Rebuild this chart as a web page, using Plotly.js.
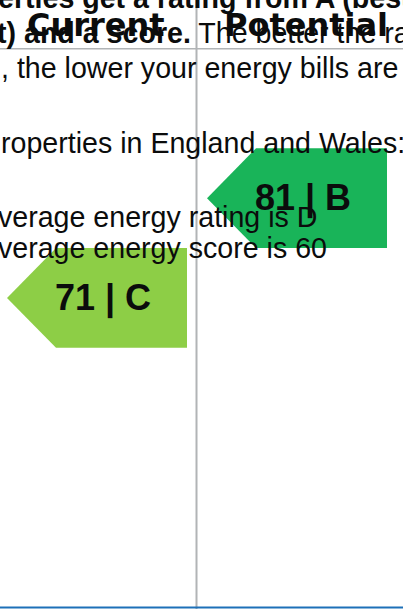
<!DOCTYPE html>
<html>
<head>
<meta charset="utf-8">
<script src="https://cdn.plot.ly/plotly-3.0.1.min.js"></script>
<style>
  html, body { margin: 0; padding: 0; overflow: hidden; background: #ffffff; }
  #chart { width: 403px; height: 609px; }
</style>
</head>
<body>
<div id="chart"></div>
<script>
// ---- Data ----
const bandLetters = ["A", "B", "C", "D", "E", "F", "G"];
const bandColors  = ["#008054", "#19b459", "#8dce46", "#ffd500", "#fcaa65", "#ef8023", "#e9153b"];
const columns     = ["Current", "Potential"];
const scores      = [71, 81];
const ratings     = ["C", "B"];
const paragraphLines = [
  "<b>erties get a rating from A (best)</b>",
  "<b>t) and a score.</b> The better the rating",
  ", the lower your energy bills are likely",
  "roperties in England and Wales:",
  "verage energy rating is D",
  "verage energy score is 60"
];

// ---- Layout helpers (pixel -> paper) ----
const W = 403, H = 609;
const px = v => v / W;
const py = v => 1 - v / H;

const traces = [];
const annotations = [];
columns.forEach((col, i) => {
  const b = bandLetters.indexOf(ratings[i]);
  traces.push({
    type: "scatter", mode: "lines",
    x: [i + 0.035, i + 0.28, i + 0.935, i + 0.935, i + 0.28, i + 0.035],
    y: [b, b - 0.5, b - 0.5, b + 0.5, b + 0.5, b],
    fill: "toself", fillcolor: bandColors[b],
    line: { width: 0, color: bandColors[b] },
    hoverinfo: "skip", showlegend: false
  });
  annotations.push({
    xref: "x", yref: "y", x: i + 0.515, y: b,
    text: "<b>" + scores[i] + " | " + ratings[i] + "</b>",
    xanchor: "center", yanchor: "middle", showarrow: false,
    font: { family: "Liberation Sans, Arial, sans-serif", size: 36, color: "#0b0c0c" }
  });
});

// paragraph text (behind the chart on the page, cropped at the edges)
const lineBaselines = [8, 43, 78, 153, 227, 258];
const lineLeft = [-4, -5, -1, -1, -4, -4];
paragraphLines.forEach((t, k) => annotations.push({
  text: t, xref: "paper", yref: "paper",
  x: px(lineLeft[k]), y: py(lineBaselines[k] - 9.8),
  xanchor: "left", yanchor: "middle", showarrow: false,
  font: { family: "Liberation Sans, Arial, sans-serif", size: 28.6, color: "#0b0c0c" }
}));

// column headers
const headerCenters = [96, 306];
columns.forEach((c, i) => {
  annotations.push({
    text: "<b>" + c + "</b>", xref: "paper", yref: "paper",
    x: px(headerCenters[i]), y: py(25),
    xanchor: "center", yanchor: "middle", showarrow: false,
    font: { family: "DejaVu Sans, sans-serif", size: 32, color: "#0b0c0c" }
  });
});

const layout = {
  width: W, height: H,
  margin: { l: 0, r: 0, t: 0, b: 0, pad: 0 },
  paper_bgcolor: "#ffffff", plot_bgcolor: "#ffffff",
  showlegend: false,
  xaxis: { range: [0, 2.015], visible: false, fixedrange: true },
  yaxis: { range: [5.118, -0.9875], visible: false, fixedrange: true },
  shapes: [
    { type: "line", xref: "paper", yref: "y", x0: 0, x1: 1, y0: -0.5, y1: -0.5,
      line: { color: "#b1b4b6", width: 1.5 }, layer: "below" },
    { type: "line", xref: "paper", yref: "paper", x0: px(196.5), x1: px(196.5), y0: 0, y1: 1,
      line: { color: "#b1b4b6", width: 2 }, layer: "below" },
    { type: "line", xref: "paper", yref: "paper", x0: 0, x1: 1, y0: py(607.5), y1: py(607.5),
      line: { color: "#1d70b8", width: 2 }, layer: "above" }
  ],
  annotations: annotations
};

Plotly.newPlot("chart", traces, layout, { staticPlot: true, displayModeBar: false });
</script>
</body>
</html>
